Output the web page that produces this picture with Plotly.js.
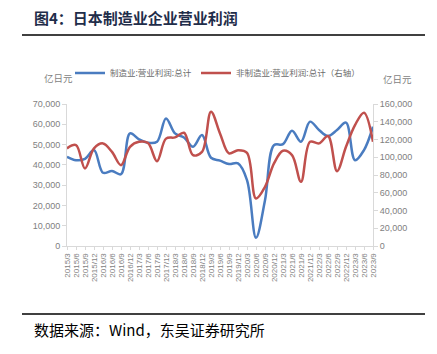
<!DOCTYPE html>
<html><head><meta charset="utf-8">
<script src="https://cdn.plot.ly/plotly-3.0.1.min.js"></script>
<style>html,body{margin:0;padding:0;background:#fff}#c{width:437px;height:354px}</style>
</head><body><div id="c"></div>
<script>
const quarters = ["2015/3","2015/6","2015/9","2015/12","2016/3","2016/6","2016/9","2016/12","2017/3","2017/6","2017/9","2017/12","2018/3","2018/6","2018/9","2018/12","2019/3","2019/6","2019/9","2019/12","2020/3","2020/6","2020/9","2020/12","2021/3","2021/6","2021/9","2021/12","2022/3","2022/6","2022/9","2022/12","2023/3","2023/6","2023/9"];
const manufacturing = [44000,42300,43000,47300,36100,37000,35400,55500,52600,50900,51400,62900,55500,53500,48900,54700,43500,42100,40400,40700,32500,4100,22600,49700,50200,56800,51400,61300,57200,54200,57200,60800,42300,47300,58800];
const nonManufacturing = [110000,113700,87400,110000,115600,106000,91100,111800,117400,116000,95600,121000,122400,127600,102400,106000,151300,126900,104300,108000,105000,53500,66600,93000,107300,102400,72300,117400,115600,123900,84300,111800,136300,150200,117400];
const seriesNames = ["制造业:营业利润:总计","非制造业:营业利润:总计（右轴）"];
const leftTicks = [0,10000,20000,30000,40000,50000,60000,70000];
const rightTicks = [0,20000,40000,60000,80000,100000,120000,140000,160000];

const L=67, R=373, T=104, B=246;
const px = x => (x-L)/(R-L);
const py = y => (B-y)/(B-T);
const grey = "#7f7f7f";
const font = "Noto Sans CJK SC, Noto Sans, sans-serif";

const traces = [
  {x: quarters, y: manufacturing, name: seriesNames[0], type: "scatter", mode: "lines",
   line: {color: "#4a7cc0", width: 2.5, shape: "spline", smoothing: 1}, yaxis: "y", legend: "legend"},
  {x: quarters, y: nonManufacturing, name: seriesNames[1], type: "scatter", mode: "lines",
   line: {color: "#c0504d", width: 2.5, shape: "spline", smoothing: 1}, yaxis: "y2", legend: "legend2"}
];

const legendBase = {orientation: "h", xanchor: "left", yanchor: "middle",
  font: {family: font, size: 8.5, color: "#6b6b6b"}, bgcolor: "rgba(0,0,0,0)"};

const layout = {
  width: 437, height: 354,
  margin: {l: L, r: 437-R, t: T, b: 354-B, pad: 0},
  paper_bgcolor: "#fff", plot_bgcolor: "#fff",
  separators: ".,",
  font: {family: font, color: grey, size: 9},
  showlegend: true,
  legend: Object.assign({}, legendBase, {x: px(70), y: py(73)}),
  legend2: Object.assign({}, legendBase, {x: px(196), y: py(73)}),
  xaxis: {type: "category", categoryorder: "array", categoryarray: quarters,
    range: [0, quarters.length-1], tickangle: -90, tickfont: {size: 8, color: grey, family: "Liberation Sans, Arial, sans-serif"},
    showgrid: false, zeroline: false, showline: true, linecolor: "#d9d9d9", linewidth: 1,
    ticks: "outside", ticklen: 3, tickcolor: "#d9d9d9", tickmode: "array", tickvals: quarters, ticktext: quarters},
  yaxis: {range: [0, 70000], tickvals: leftTicks, tickformat: ",d", showgrid: false, zeroline: false,
    showline: true, linecolor: "#d9d9d9", ticks: "outside", ticklen: 4, tickcolor: "#d9d9d9",
    tickfont: {size: 9, color: grey, family: "Liberation Sans, Arial, sans-serif"}},
  yaxis2: {range: [0, 160000], tickvals: rightTicks, tickformat: ",d", overlaying: "y", side: "right",
    showgrid: false, zeroline: false, showline: true, linecolor: "#d9d9d9", ticks: "outside", ticklen: 4, tickcolor: "#d9d9d9",
    tickfont: {size: 9, color: grey, family: "Liberation Sans, Arial, sans-serif"}},
  shapes: [
    {type: "line", xref: "paper", yref: "paper", x0: px(22), x1: px(425), y0: py(35), y1: py(35), line: {color: "#000", width: 1.5}},
    {type: "line", xref: "paper", yref: "paper", x0: px(22), x1: px(425), y0: py(314), y1: py(314), line: {color: "#000", width: 1.5}}
  ],
  annotations: [
    {text: "<b>图4：日本制造业企业营业利润</b>", xref: "paper", yref: "paper", x: px(32), y: py(18), xanchor: "left", yanchor: "middle",
     showarrow: false, font: {family: font, size: 15, color: "#1f2d4a"}},
    {text: "亿日元", xref: "paper", yref: "paper", x: px(58), y: py(78), xanchor: "center", yanchor: "middle",
     showarrow: false, font: {family: font, size: 9.5, color: grey}},
    {text: "亿日元", xref: "paper", yref: "paper", x: px(397), y: py(79), xanchor: "center", yanchor: "middle",
     showarrow: false, font: {family: font, size: 9.5, color: grey}},
    {text: "数据来源：Wind，东吴证券研究所", xref: "paper", yref: "paper", x: px(32), y: py(329), xanchor: "left", yanchor: "middle",
     showarrow: false, font: {family: font, size: 15, color: "#000"}}
  ]
};
Plotly.newPlot("c", traces, layout, {displayModeBar: false, staticPlot: true});
</script></body></html>
